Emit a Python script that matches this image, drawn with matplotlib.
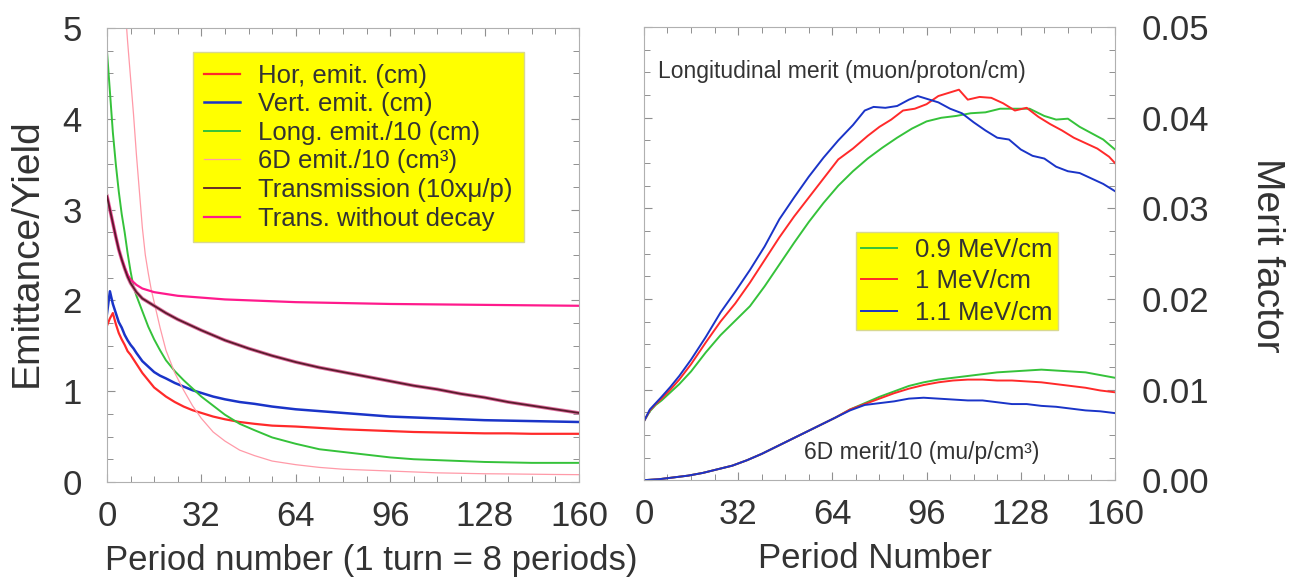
import matplotlib
matplotlib.use("Agg")
import matplotlib.pyplot as plt
from matplotlib.ticker import MultipleLocator

plt.rcParams['font.family'] = ['Liberation Sans', 'DejaVu Sans']

# ---------------- Left panel data ----------------
hor_x = [0, 1, 2, 3, 4, 5, 6, 7, 8, 9, 10, 12, 14, 16, 18, 20, 23, 26, 29, 32, 36, 40, 45, 50, 56, 64, 72, 80, 88, 96, 104, 112, 120, 128, 136, 144, 152, 160]
hor_y = [1.72, 1.80, 1.86, 1.74, 1.64, 1.57, 1.51, 1.44, 1.40, 1.35, 1.30, 1.20, 1.12, 1.04, 0.99, 0.94, 0.88, 0.83, 0.79, 0.76, 0.72, 0.69, 0.66, 0.64, 0.62, 0.61, 0.595, 0.58, 0.57, 0.56, 0.55, 0.545, 0.54, 0.535, 0.535, 0.53, 0.53, 0.53]

vert_x = hor_x
vert_y = [1.85, 2.10, 1.96, 1.86, 1.76, 1.70, 1.62, 1.56, 1.51, 1.47, 1.42, 1.33, 1.27, 1.21, 1.17, 1.14, 1.09, 1.05, 1.01, 0.98, 0.94, 0.91, 0.88, 0.86, 0.83, 0.80, 0.78, 0.76, 0.74, 0.72, 0.71, 0.70, 0.69, 0.68, 0.675, 0.67, 0.665, 0.66]

long_x = hor_x
long_y = [4.75, 4.30, 3.85, 3.50, 3.20, 2.95, 2.75, 2.52, 2.32, 2.15, 2.05, 1.88, 1.71, 1.57, 1.45, 1.34, 1.22, 1.12, 1.03, 0.94, 0.84, 0.74, 0.64, 0.57, 0.49, 0.42, 0.36, 0.33, 0.30, 0.27, 0.25, 0.24, 0.23, 0.22, 0.215, 0.21, 0.21, 0.21]

d6_x = [5, 6, 7, 8, 9, 10, 11, 12, 13, 14, 15, 16, 18, 20, 23, 26, 29, 32, 36, 40, 45, 50, 56, 64, 72, 80, 88, 96, 104, 112, 120, 128, 136, 144, 152, 160]
d6_y = [6.0, 5.3, 4.85, 4.45, 4.05, 3.6, 3.2, 2.8, 2.5, 2.3, 2.12, 1.98, 1.70, 1.45, 1.20, 1.01, 0.84, 0.70, 0.55, 0.45, 0.35, 0.29, 0.23, 0.19, 0.16, 0.14, 0.13, 0.12, 0.11, 0.10, 0.095, 0.09, 0.088, 0.085, 0.082, 0.08]

tr_x = [0, 1, 2, 3, 4, 5, 6, 7, 8, 10, 12, 14, 16, 20, 24, 28, 32, 40, 48, 56, 64, 72, 80, 88, 96, 104, 112, 120, 128, 136, 144, 152, 160]
tr_y = [3.15, 3.0, 2.85, 2.7, 2.56, 2.45, 2.35, 2.26, 2.19, 2.09, 2.02, 1.98, 1.94, 1.86, 1.79, 1.73, 1.67, 1.56, 1.47, 1.39, 1.32, 1.26, 1.21, 1.16, 1.11, 1.06, 1.02, 0.97, 0.93, 0.88, 0.84, 0.80, 0.76]

nd_x = [0, 1, 2, 3, 4, 5, 6, 7, 8, 9, 10, 12, 14, 16, 20, 24, 28, 32, 40, 48, 56, 64, 80, 96, 112, 128, 144, 160]
nd_y = [3.15, 3.0, 2.85, 2.7, 2.56, 2.45, 2.36, 2.28, 2.23, 2.2, 2.17, 2.13, 2.11, 2.09, 2.07, 2.05, 2.04, 2.03, 2.01, 2.0, 1.99, 1.98, 1.97, 1.96, 1.955, 1.95, 1.945, 1.94]

left_labels = ["Hor, emit. (cm)", "Vert. emit. (cm)", "Long. emit./10 (cm)",
               "6D emit./10 (cm\u00b3)", "Transmission (10x\u03bc/p)", "Trans. without decay"]

# ---------------- Right panel data ----------------
lb_x = [0, 2, 4, 6, 9, 12, 16, 21, 26, 31, 36, 41, 46, 51, 56, 61, 66, 71, 75, 78, 82, 86, 90, 93, 96, 100, 104, 108, 112, 116, 120, 124, 128, 132, 136, 140, 144, 148, 152, 156, 160]
lb_y = [0.0065, 0.0078, 0.0085, 0.0092, 0.0103, 0.0115, 0.0133, 0.0158, 0.0185, 0.0208, 0.0232, 0.0258, 0.0288, 0.0312, 0.0335, 0.0356, 0.0375, 0.0392, 0.0408, 0.0412, 0.0411, 0.0413, 0.0420, 0.0424, 0.0421, 0.0417, 0.0410, 0.0405, 0.0395, 0.0386, 0.0378, 0.0376, 0.0365, 0.0358, 0.0355, 0.0346, 0.0341, 0.0339, 0.0333, 0.0327, 0.0319]

lr_x = [0, 2, 4, 6, 9, 12, 16, 21, 26, 31, 36, 41, 46, 51, 56, 61, 66, 71, 76, 80, 84, 88, 92, 96, 100, 104, 107, 110, 114, 118, 122, 126, 130, 134, 138, 142, 146, 150, 154, 158, 160]
lr_y = [0.0065, 0.0077, 0.0084, 0.0090, 0.0100, 0.0111, 0.0128, 0.0152, 0.0175, 0.0195, 0.0218, 0.0243, 0.0268, 0.0291, 0.0312, 0.0333, 0.0354, 0.0366, 0.0380, 0.0390, 0.0398, 0.0408, 0.0410, 0.0415, 0.0424, 0.0428, 0.0431, 0.0420, 0.0423, 0.0422, 0.0416, 0.0408, 0.0411, 0.0401, 0.0393, 0.0386, 0.0378, 0.0372, 0.0366, 0.0357, 0.0350]

lg_x = [0, 2, 4, 6, 9, 12, 16, 21, 26, 31, 36, 41, 46, 51, 56, 61, 66, 71, 76, 81, 86, 91, 96, 101, 106, 111, 116, 121, 126, 131, 136, 140, 144, 148, 152, 156, 160]
lg_y = [0.0065, 0.0076, 0.0083, 0.0088, 0.0097, 0.0106, 0.0120, 0.0141, 0.0160, 0.0176, 0.0192, 0.0214, 0.0238, 0.0262, 0.0285, 0.0306, 0.0325, 0.0341, 0.0355, 0.0367, 0.0378, 0.0388, 0.0396, 0.0400, 0.0402, 0.0405, 0.0406, 0.0410, 0.0410, 0.0410, 0.0402, 0.0398, 0.0399, 0.0390, 0.0383, 0.0376, 0.0365]

s_x = [0, 5, 10, 15, 20, 25, 30, 35, 40, 45, 50, 55, 60, 65, 70, 75, 80, 85, 90, 95, 100, 105, 110, 115, 120, 125, 130, 135, 140, 145, 150, 155, 160]
sb_y = [0.0, 0.0001, 0.0003, 0.0005, 0.0008, 0.0012, 0.0016, 0.0022, 0.0029, 0.0037, 0.0045, 0.0053, 0.0061, 0.0069, 0.0077, 0.0083, 0.0085, 0.0087, 0.0090, 0.0091, 0.0090, 0.0089, 0.0088, 0.0088, 0.0086, 0.0084, 0.0084, 0.0082, 0.0081, 0.0079, 0.0077, 0.0076, 0.0074]
sr_y = [0.0, 0.0001, 0.0003, 0.0005, 0.0008, 0.0012, 0.0016, 0.0022, 0.0029, 0.0037, 0.0045, 0.0053, 0.0061, 0.0069, 0.0078, 0.0084, 0.0090, 0.0096, 0.0101, 0.0105, 0.0108, 0.0110, 0.0111, 0.0111, 0.0110, 0.0110, 0.0109, 0.0108, 0.0106, 0.0104, 0.0102, 0.0099, 0.0097]
sg_y = [0.0, 0.0001, 0.0003, 0.0005, 0.0008, 0.0012, 0.0016, 0.0022, 0.0029, 0.0037, 0.0045, 0.0053, 0.0061, 0.0069, 0.0078, 0.0085, 0.0092, 0.0098, 0.0104, 0.0108, 0.0111, 0.0113, 0.0115, 0.0117, 0.0119, 0.0120, 0.0121, 0.0122, 0.0121, 0.0120, 0.0119, 0.0116, 0.0113]

right_labels = ["0.9 MeV/cm", "1 MeV/cm", "1.1 MeV/cm"]

RED = '#ff2a2a'
BLUE = '#1a34c8'
GREEN = '#35c23a'
PINK = '#ff9aa8'
DARK = '#5a1c2c'
MAGENTA = '#ff1a8c'
YELLOW = '#ffff00'
TXT = '#333333'

fig = plt.figure(figsize=(12.98, 5.87), dpi=100)
ax1 = fig.add_axes([0.0824, 0.179, 0.3636, 0.7734])
ax2 = fig.add_axes([0.4961, 0.182, 0.3629, 0.7717])


def style(ax):
    for s in ax.spines.values():
        s.set_color('#b0b0b0')
        s.set_linewidth(0.8)
    ax.tick_params(which='both', direction='in', top=True, right=True, color='#909090',
                   labelcolor=TXT, labelsize=25)
    ax.tick_params(which='major', length=6, width=0.8)
    ax.tick_params(which='minor', length=4, width=0.7)
    ax.set_xlim(0, 160)
    ax.xaxis.set_major_locator(MultipleLocator(32))
    ax.xaxis.set_minor_locator(MultipleLocator(8))
    ax.tick_params(axis='x', pad=13)


style(ax1)
style(ax2)

# Left panel
ax1.plot(hor_x, hor_y, color=RED, lw=1.6, label=left_labels[0])
ax1.plot(vert_x, vert_y, color=BLUE, lw=1.8, label=left_labels[1])
ax1.plot(long_x, long_y, color=GREEN, lw=1.4, label=left_labels[2])
ax1.plot(d6_x, d6_y, color=PINK, lw=0.9, label=left_labels[3])
ax1.plot(tr_x, tr_y, color='#e070a0', lw=2.6, zorder=2)
ax1.plot(tr_x, tr_y, color=DARK, lw=1.3, label=left_labels[4], zorder=3)
ax1.plot(nd_x, nd_y, color=MAGENTA, lw=1.6, label=left_labels[5])
ax1.set_ylim(0, 5)
ax1.yaxis.set_major_locator(MultipleLocator(1))
ax1.yaxis.set_minor_locator(MultipleLocator(0.25))
ax1.tick_params(axis='y', pad=18)
ax1.set_ylabel("Emittance/Yield", fontsize=28, color=TXT)
ax1.yaxis.label.set(ha='center', va='center', rotation_mode='default')
ax1.yaxis.set_label_coords(-0.1695, 0.505)
ax1.set_xlabel("Period number (1 turn = 8 periods)", fontsize=25, color=TXT)
ax1.xaxis.label.set(ha='center', va='center')
ax1.xaxis.set_label_coords(0.561, -0.172)
h, l = ax1.get_legend_handles_labels()
leg1 = ax1.legend(h, l, loc='upper left', bbox_to_anchor=(0.182, 0.947), fontsize=18.5,
                  frameon=True, fancybox=False, facecolor=YELLOW, edgecolor='#d8d890',
                  framealpha=1, handlelength=1.4, handletextpad=0.7, labelspacing=0.18,
                  borderpad=0.45, borderaxespad=0)
for t in leg1.get_texts():
    t.set_color(TXT)

# Right panel
ax2.plot(lg_x, lg_y, color=GREEN, lw=1.4, label=right_labels[0])
ax2.plot(lr_x, lr_y, color=RED, lw=1.4, label=right_labels[1])
ax2.plot(lb_x, lb_y, color=BLUE, lw=1.4, label=right_labels[2])
ax2.plot(s_x, sg_y, color=GREEN, lw=1.4)
ax2.plot(s_x, sr_y, color=RED, lw=1.4)
ax2.plot(s_x, sb_y, color=BLUE, lw=1.4)
ax2.set_ylim(0, 0.05)
ax2.yaxis.set_major_locator(MultipleLocator(0.01))
ax2.yaxis.set_minor_locator(MultipleLocator(0.0025))
ax2.yaxis.set_major_formatter(plt.FormatStrFormatter('%.2f'))
ax2.tick_params(axis='y', labelleft=False, labelright=True, pad=19)
ax2.yaxis.set_label_position('right')
ax2.set_ylabel("Merit factor", fontsize=28, color=TXT, rotation=270)
ax2.yaxis.label.set(ha='center', va='center', rotation_mode='default')
ax2.yaxis.set_label_coords(1.323, 0.497)
ax2.set_xlabel("Period Number", fontsize=25, color=TXT)
ax2.xaxis.label.set(ha='center', va='center')
ax2.xaxis.set_label_coords(0.49, -0.172)
ax2.text(0.03, 0.903, "Longitudinal merit (muon/proton/cm)", transform=ax2.transAxes,
         fontsize=16.5, color=TXT, ha='left', va='center')
ax2.text(0.34, 0.06, "6D merit/10 (mu/p/cm\u00b3)", transform=ax2.transAxes,
         fontsize=16.5, color=TXT, ha='left', va='center')
leg2 = ax2.legend(loc='upper left', bbox_to_anchor=(0.45, 0.547), fontsize=18.5,
                  frameon=True, fancybox=False, facecolor=YELLOW, edgecolor='#d8d890',
                  framealpha=1, handlelength=1.4, handletextpad=0.7, labelspacing=0.3,
                  borderpad=0.2, borderaxespad=0)
for t in leg2.get_texts():
    t.set_color(TXT)

fig.savefig("out.png", dpi=100)
